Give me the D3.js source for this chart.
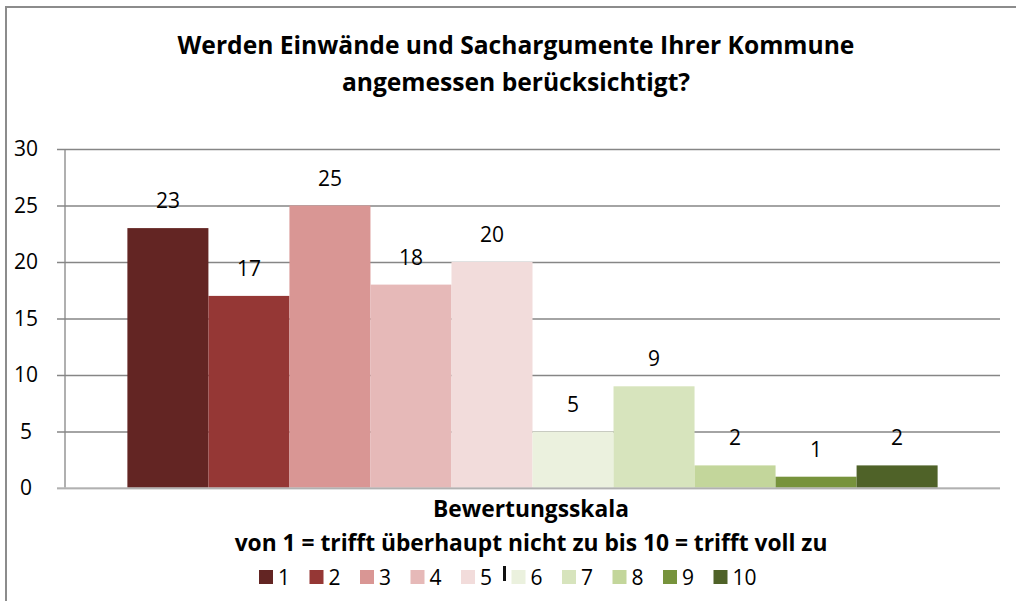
<!DOCTYPE html>
<html>
<head>
<meta charset="utf-8">
<script src="https://cdn.jsdelivr.net/npm/d3@7"></script>
<style>
  body { margin: 0; background: #fff; }
  text { font-family: "Open Sans", "Liberation Sans", sans-serif; }
</style>
</head>
<body>
<svg width="1016" height="601"></svg>
<script>
var titleLines = ['Werden Einwände und Sachargumente Ihrer Kommune', 'angemessen berücksichtigt?'];
var axisTitleLines = ['Bewertungsskala', 'von 1 = trifft überhaupt nicht zu bis 10 = trifft voll zu'];
var series = ['1', '2', '3', '4', '5', '6', '7', '8', '9', '10'];
var values = [23, 17, 25, 18, 20, 5, 9, 2, 1, 2];
var colors = ['#632523', '#953735', '#D99694', '#E6B9B8', '#F2DCDB',
              '#EBF1DE', '#D7E4BD', '#C3D69B', '#77933C', '#4F6228'];
var yTicks = [0, 5, 10, 15, 20, 25, 30];

var svg = d3.select('svg');
var margin = { left: 65, right: 16, top: 149, bottom: 113 };
var width = 1016 - margin.left - margin.right;
var height = 601 - margin.top - margin.bottom;

// shrink/grow a multi-line text so its first measured line has the wanted width
function fitLines(sel, lineIndex, target) {
  var size = parseFloat(sel.style('font-size'));
  var w = sel.selectAll('tspan').nodes()[lineIndex].getComputedTextLength();
  sel.style('font-size', (size * target / w) + 'px');
}

// chart frame (only top and left edges visible)
svg.append('path')
  .attr('d', 'M6,601 V7 H1016')
  .attr('fill', 'none')
  .attr('stroke', '#8c8c8c')
  .attr('stroke-width', 2);

// title
var title = svg.append('text')
  .attr('x', 516).attr('y', 54)
  .attr('text-anchor', 'middle')
  .style('font-size', '20px').style('font-weight', 'bold');
title.selectAll('tspan').data(titleLines).enter().append('tspan')
  .attr('x', 516)
  .attr('dy', function (d, i) { return i ? 37 : 0; })
  .text(function (d) { return d; });
fitLines(title, 0, 677);

var g = svg.append('g').attr('transform', 'translate(' + margin.left + ',' + margin.top + ')');

var y = d3.scaleLinear().domain([0, 30]).range([height, 0]);
var x0 = d3.scaleBand().domain(['group']).range([0, width]).paddingOuter(0.077);
var x1 = d3.scaleBand().domain(series).range([x0('group'), x0('group') + x0.bandwidth()]);

// gridlines + y axis
var yAxis = d3.axisLeft(y).tickValues(yTicks).tickSize(-width).tickPadding(14);
var ya = g.append('g').call(yAxis);
ya.select('.domain').remove();
ya.selectAll('.tick line').attr('stroke', '#868686').attr('stroke-width', 1.3).attr('x1', -8);
ya.selectAll('.tick text')
  .style('font-size', '21px').attr('fill', '#000')
  .attr('x', -39).attr('text-anchor', 'middle');

g.append('line')
  .attr('x1', 0).attr('x2', 0).attr('y1', 0).attr('y2', height)
  .attr('stroke', '#868686').attr('stroke-width', 1.3);

// bars
g.selectAll('rect.bar').data(values).enter().append('rect')
  .attr('class', 'bar')
  .attr('x', function (d, i) { return x1(series[i]); })
  .attr('width', x1.bandwidth())
  .attr('y', function (d) { return y(d); })
  .attr('height', function (d) { return height - y(d); })
  .attr('fill', function (d, i) { return colors[i]; });

// baseline over bars
g.append('line')
  .attr('x1', -8).attr('x2', width).attr('y1', height).attr('y2', height)
  .attr('stroke', '#bfbfbf').attr('stroke-width', 1.3);

// data labels
g.selectAll('text.lbl').data(values).enter().append('text')
  .attr('class', 'lbl')
  .attr('x', function (d, i) { return x1(series[i]) + x1.bandwidth() / 2; })
  .attr('y', function (d) { return y(d) - 20; })
  .attr('text-anchor', 'middle')
  .style('font-size', '21px')
  .text(function (d) { return d; });

// axis title
var axTitle = svg.append('text')
  .attr('x', 531).attr('y', 517)
  .attr('text-anchor', 'middle')
  .style('font-size', '18px').style('font-weight', 'bold');
axTitle.selectAll('tspan').data(axisTitleLines).enter().append('tspan')
  .attr('x', 531)
  .attr('dy', function (d, i) { return i ? 34 : 0; })
  .text(function (d) { return d; });
fitLines(axTitle, 1, 593);

// legend
var legend = svg.append('g').attr('transform', 'translate(259,570)');
var item = legend.selectAll('g').data(series).enter().append('g')
  .attr('transform', function (d, i) { return 'translate(' + (i * 50.5) + ',0)'; });
item.append('rect')
  .attr('width', 14).attr('height', 14)
  .attr('fill', function (d, i) { return colors[i]; });
item.append('text')
  .attr('x', 19).attr('y', 15)
  .style('font-size', '21px')
  .text(function (d) { return d; });

// stray cursor mark between 5 and 6
svg.append('rect')
  .attr('x', 503).attr('y', 566).attr('width', 3).attr('height', 15)
  .attr('fill', '#111');
</script>
</body>
</html>
